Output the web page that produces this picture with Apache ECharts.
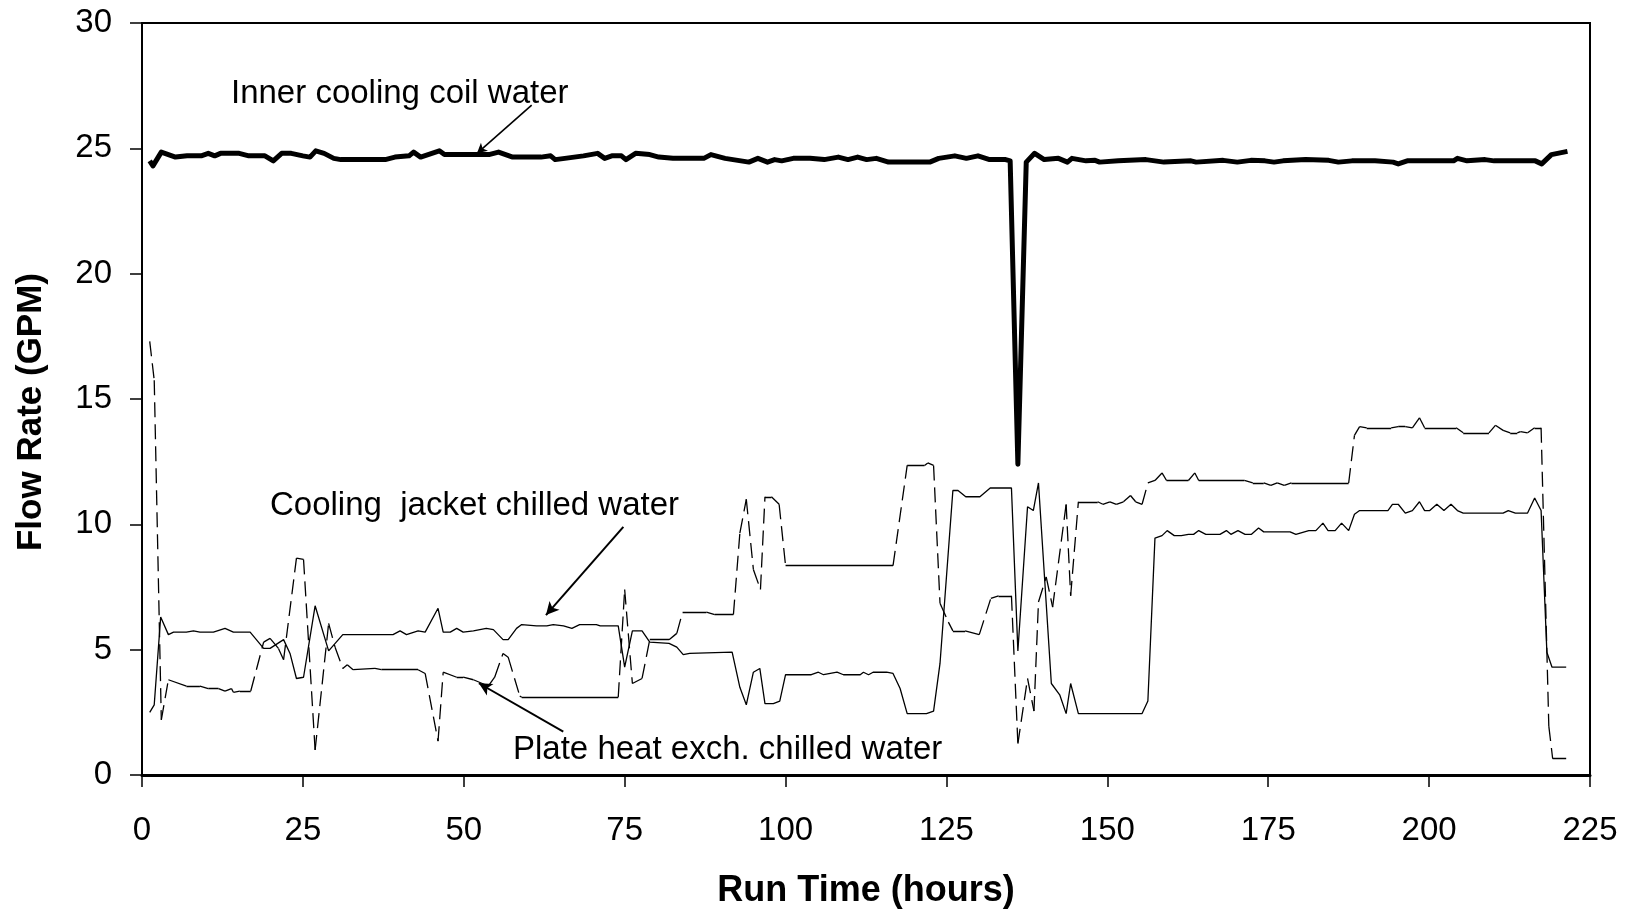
<!DOCTYPE html>
<html>
<head>
<meta charset="utf-8">
<script src="https://cdn.jsdelivr.net/npm/echarts@6/dist/echarts.min.js"></script>
<style>
  html, body { margin: 0; padding: 0; background: #fff; }
  #chart { width: 1629px; height: 915px; }
</style>
</head>
<body>
<div id="chart"></div>
<script>
// ---------------- DATA ----------------
const coilHours = [1.2,1.7,3.0,5.2,7.0,9.2,10.3,11.3,12.2,15.1,16.6,19.1,20.4,21.7,23.2,25.0,26.1,27.0,28.3,29.8,30.9,37.8,39.3,41.5,42.2,43.3,46.2,47.0,53.9,55.4,57.6,62.0,63.5,64.2,65.7,68.6,70.8,71.9,73.0,74.5,75.2,76.7,78.9,80.3,82.5,87.3,88.4,90.6,94.3,95.7,97.2,98.3,99.4,101.2,103.8,106.0,108.2,109.7,111.2,112.6,114.1,116.0,122.4,123.8,126.3,128.1,129.9,131.7,134.2,134.9,136.1,137.4,138.7,140.2,142.4,143.8,144.5,146.7,148.1,148.8,151.7,156.0,158.8,163.0,163.8,168.0,170.2,172.3,174.5,175.9,177.3,180.8,184.4,185.9,188.0,191.6,194.4,195.2,196.6,203.8,204.4,205.9,208.7,210.1,216.5,217.5,219.0,221.5];
const coilFlow = [24.5,24.3,24.85,24.65,24.7,24.7,24.8,24.7,24.8,24.8,24.7,24.7,24.5,24.8,24.8,24.7,24.65,24.9,24.8,24.6,24.55,24.55,24.65,24.7,24.85,24.65,24.9,24.75,24.75,24.85,24.65,24.65,24.7,24.55,24.6,24.7,24.8,24.6,24.7,24.7,24.55,24.8,24.75,24.65,24.6,24.6,24.75,24.6,24.45,24.6,24.45,24.55,24.5,24.6,24.6,24.55,24.65,24.55,24.65,24.55,24.6,24.45,24.45,24.6,24.7,24.6,24.7,24.55,24.55,24.5,12.4,24.45,24.8,24.55,24.6,24.45,24.6,24.5,24.52,24.45,24.5,24.55,24.45,24.5,24.45,24.52,24.45,24.52,24.5,24.45,24.5,24.55,24.52,24.45,24.5,24.5,24.45,24.38,24.5,24.5,24.6,24.5,24.55,24.5,24.5,24.38,24.75,24.88];

const jacketHours = [1.2,1.9,2.9,4.1,4.9,6.9,8.0,9.0,11.1,12.9,14.2,16.8,18.9,19.9,22.0,23.0,24.0,25.1,26.9,29.0,31.2,39.0,40.1,41.1,42.9,44.0,46.0,46.8,47.9,48.9,49.9,51.5,53.5,54.6,56.1,56.9,58.2,59.0,61.3,62.9,63.9,65.5,66.8,68.0,70.6,71.2,74.0,75.0,76.2,77.7,78.9,81.9,83.1,84.1,85.1,91.7,92.9,93.9,95.0,96.0,96.8,98.1,99.1,100.0,104.0,105.1,105.9,108.0,109.0,111.6,112.1,112.9,113.6,115.7,116.7,117.8,118.9,121.9,123.0,124.0,126.0,126.8,128.0,130.2,131.8,135.1,136.1,137.6,138.5,139.3,141.3,142.6,143.6,144.3,145.5,155.4,156.3,157.4,158.5,159.3,160.4,161.5,162.6,163.4,164.2,165.3,167.5,168.5,169.2,170.3,171.4,172.4,173.5,174.3,178.4,179.3,181.3,182.4,183.5,184.3,185.4,186.4,187.5,188.4,189.2,193.6,194.3,195.2,196.3,197.4,198.5,199.3,200.1,201.2,202.3,203.4,204.4,205.3,211.5,212.3,213.4,215.3,216.4,217.4,218.3,219.1,221.3];
const jacketFlow = [2.5,2.8,6.3,5.6,5.7,5.7,5.75,5.7,5.7,5.85,5.7,5.7,5.05,5.05,5.4,4.85,3.85,3.9,6.75,4.95,5.6,5.6,5.75,5.6,5.75,5.7,6.65,5.7,5.7,5.85,5.7,5.75,5.85,5.8,5.4,5.4,5.85,6.0,5.95,5.95,6.0,5.95,5.85,6.0,6.0,5.95,5.95,4.3,5.75,5.75,5.3,5.25,5.1,4.8,4.85,4.9,3.5,2.8,4.1,4.25,2.85,2.85,2.95,4.0,4.0,4.1,4.0,4.1,4.0,4.0,4.1,4.0,4.1,4.1,4.05,3.45,2.45,2.45,2.55,4.45,11.35,11.35,11.1,11.1,11.45,11.45,4.95,10.7,10.55,11.65,3.65,3.2,2.45,3.65,2.45,2.45,2.95,9.45,9.55,9.75,9.55,9.55,9.6,9.6,9.75,9.6,9.6,9.75,9.6,9.75,9.6,9.6,9.85,9.7,9.7,9.6,9.75,9.75,10.05,9.75,9.75,10.05,9.75,10.4,10.55,10.55,10.8,10.8,10.45,10.55,10.9,10.55,10.55,10.8,10.55,10.8,10.55,10.45,10.45,10.55,10.45,10.45,11.05,10.55,4.9,4.3,4.3];

const plateHours = [1.2,1.9,3.0,4.1,6.9,9.0,10.3,11.9,12.9,13.9,14.2,15.2,16.9,18.9,19.9,21.2,22.0,24.0,25.1,26.9,29.0,30.0,31.2,31.9,32.8,36.2,37.2,42.9,44.0,46.0,46.8,48.9,49.9,51.5,53.8,54.8,56.1,56.9,58.7,59.0,74.0,75.0,76.2,77.7,78.9,81.9,83.1,84.0,87.7,89.0,91.9,92.9,93.9,95.0,96.1,96.8,97.8,99.0,100.0,116.7,118.9,121.6,122.1,123.0,124.0,125.3,126.0,127.9,130.1,131.9,133.1,135.1,136.1,137.6,138.6,139.3,140.5,141.5,143.6,144.3,145.5,148.5,149.3,150.4,151.4,152.5,153.6,154.4,155.4,156.3,157.4,158.5,159.2,162.6,163.6,164.2,171.3,172.6,174.3,175.4,176.4,177.5,178.6,187.5,188.4,189.2,190.3,194.1,195.2,196.3,197.4,198.5,199.3,204.2,205.3,209.3,210.3,211.5,212.6,213.7,214.2,215.3,216.4,217.4,218.6,219.2,221.3];
const plateFlow = [17.3,15.75,2.2,3.8,3.55,3.55,3.45,3.45,3.35,3.45,3.3,3.35,3.35,5.3,5.45,5.05,4.6,8.65,8.6,1.0,6.05,5.1,4.25,4.4,4.2,4.25,4.2,4.2,4.05,1.35,4.1,3.9,3.9,3.8,3.55,3.9,4.85,4.7,3.15,3.1,3.1,7.4,3.65,3.85,5.4,5.4,5.65,6.5,6.5,6.4,6.4,9.65,11.0,8.2,7.4,11.1,11.1,10.8,8.35,8.35,12.35,12.35,12.45,12.35,6.85,6.1,5.75,5.75,5.6,7.05,7.15,7.15,1.25,3.85,2.55,6.9,7.9,6.7,10.8,7.15,10.9,10.9,10.8,10.9,10.8,10.9,11.15,10.9,10.8,11.65,11.75,12.05,11.75,11.75,12.05,11.75,11.75,11.65,11.65,11.55,11.65,11.55,11.65,11.65,13.55,13.9,13.85,13.85,13.9,13.9,13.85,14.25,13.85,13.85,13.65,13.65,13.95,13.75,13.65,13.65,13.7,13.65,13.85,13.85,1.95,0.65,0.65];

// ---------------- BUILD ----------------
const pairs = (xs, ys) => xs.map((x, i) => [x, ys[i]]);
// Plate series: each segment drawn separately so the dash pattern restarts per segment
const plateSteep = [], plateFlat = [];
for (let i = 0; i < plateHours.length - 1; i++) {
  const dh = plateHours[i + 1] - plateHours[i];
  const dv = Math.abs(plateFlow[i + 1] - plateFlow[i]);
  const seg = { coords: [[plateHours[i], plateFlow[i]], [plateHours[i + 1], plateFlow[i + 1]]] };
  if (dv / Math.max(dh, 1) > 0.4) plateSteep.push(seg); else plateFlat.push(seg);
}

const FONT = "'Liberation Sans', Arial, Helvetica, sans-serif";
const chart = echarts.init(document.getElementById('chart'), null, { renderer: 'canvas' });

chart.setOption({
  animation: false,
  backgroundColor: '#fff',
  grid: { left: 142, right: 39, top: 23, bottom: 140, show: true, borderColor: '#000', borderWidth: 2, backgroundColor: 'transparent' },
  xAxis: {
    type: 'value', min: 0, max: 225, interval: 25,
    name: 'Run Time (hours)', nameLocation: 'middle', nameGap: 98,
    nameTextStyle: { fontFamily: FONT, fontSize: 36, fontWeight: 'bold', color: '#000' },
    axisLine: { show: true, lineStyle: { color: '#000', width: 3 } },
    axisTick: { show: true, inside: false, length: 12, lineStyle: { color: '#000', width: 1.5 } },
    axisLabel: { fontFamily: FONT, fontSize: 33, color: '#000', margin: 39 },
    splitLine: { show: false }
  },
  yAxis: {
    type: 'value', min: 0, max: 30, interval: 5,
    axisLine: { show: true, lineStyle: { color: '#000', width: 2 } },
    axisTick: { show: true, inside: false, length: 12, lineStyle: { color: '#000', width: 1.5 } },
    axisLabel: { fontFamily: FONT, fontSize: 33, color: '#000', margin: 30 },
    splitLine: { show: false }
  },
  series: [
    {
      name: 'Plate heat exch. chilled water (flat)', type: 'lines', coordinateSystem: 'cartesian2d',
      polyline: false, silent: true, z: 3,
      lineStyle: { color: '#000', width: 1.3, type: 'solid', opacity: 1 },
      data: plateFlat
    },
    {
      name: 'Plate heat exch. chilled water (steep)', type: 'lines', coordinateSystem: 'cartesian2d',
      polyline: false, silent: true, z: 3,
      lineStyle: { color: '#000', width: 1.3, type: [15, 7], opacity: 1 },
      data: plateSteep
    },
    {
      name: 'Cooling jacket chilled water', type: 'line', data: pairs(jacketHours, jacketFlow),
      symbol: 'none', silent: true, z: 4,
      lineStyle: { color: '#000', width: 1.3 }
    },
    {
      name: 'Inner cooling coil water', type: 'line', data: pairs(coilHours, coilFlow),
      symbol: 'none', silent: true, z: 5,
      lineStyle: { color: '#000', width: 5, join: 'round' },
      markLine: {
        silent: true, animation: false,
        symbol: ['none', 'arrow'],
        label: { show: false },
        lineStyle: { color: '#000', width: 2, type: 'solid' },
        data: [
          [{ coord: [60.55, 26.72], symbol: 'none' }, { coord: [52.05, 24.8], symbol: 'arrow', symbolSize: [8, 10] , lineStyle: { width: 1.6 } }],
          [{ coord: [74.8, 9.9], symbol: 'none' }, { coord: [62.77, 6.38], symbol: 'arrow', symbolSize: [10, 13] }],
          [{ coord: [65.46, 1.73], symbol: 'none' }, { coord: [52.35, 3.66], symbol: 'arrow', symbolSize: [10, 13] }]
        ]
      }
    }
  ],
  graphic: [
    { type: 'text', x: 31, y: 412, rotation: Math.PI / 2, silent: true, style: { text: 'Flow Rate (GPM)', font: 'bold 35px ' + FONT, fill: '#000', align: 'center', verticalAlign: 'middle' } },
    { type: 'text', x: 231, y: 94, silent: true, style: { text: 'Inner cooling coil water', font: '33px ' + FONT, fill: '#000', align: 'left', verticalAlign: 'middle' } },
    { type: 'text', x: 270, y: 506, silent: true, style: { text: 'Cooling  jacket chilled water', font: '33px ' + FONT, fill: '#000', align: 'left', verticalAlign: 'middle' } },
    { type: 'text', x: 513, y: 750, silent: true, style: { text: 'Plate heat exch. chilled water', font: '33px ' + FONT, fill: '#000', align: 'left', verticalAlign: 'middle' } }
  ]
});
</script>
</body>
</html>
